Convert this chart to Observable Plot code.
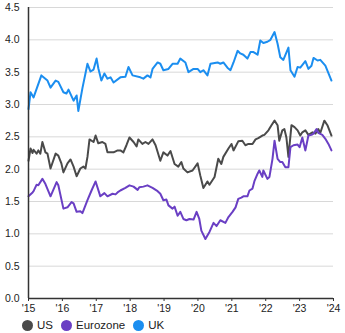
<!DOCTYPE html>
<html><head><meta charset="utf-8">
<script src="https://cdn.jsdelivr.net/npm/d3@7"></script>
<script src="https://cdn.jsdelivr.net/npm/@observablehq/plot@0.6"></script>
<style>
body{margin:0;background:#fff;font-family:"Liberation Sans",Arial,sans-serif;}
#legend{display:flex;align-items:center;height:16px;padding-left:22px;font-size:11.5px;color:#222;}
#legend span.item{display:flex;align-items:center;margin-right:8px;}
#legend span.dot{width:11px;height:11px;border-radius:50%;display:inline-block;margin-right:4px;}
</style></head>
<body>
<div id="chart"></div>
<div id="legend"></div>
<script>
const seriesNames = ["US", "Eurozone", "UK"];
const seriesColors = ["#4a4a4a", "#6a3fc4", "#1b8ef0"];
const xTicks = [2015,2016,2017,2018,2019,2020,2021,2022,2023,2024];
const xTickLabels = ["'15","'16","'17","'18","'19","'20","'21","'22","'23","'24"];
const yTicks = [0,0.5,1,1.5,2,2.5,3,3.5,4,4.5];

const ukDates = [2015.00,2015.06,2015.15,2015.38,2015.56,2015.65,2015.80,2015.88,2016.03,2016.12,2016.18,2016.33,2016.42,2016.47,2016.59,2016.74,2016.83,2016.92,2017.01,2017.06,2017.15,2017.24,2017.33,2017.42,2017.51,2017.71,2017.86,2017.95,2018.07,2018.30,2018.39,2018.51,2018.60,2018.66,2018.81,2018.89,2018.98,2019.13,2019.25,2019.40,2019.48,2019.63,2019.72,2019.87,2019.99,2020.07,2020.16,2020.28,2020.37,2020.58,2020.66,2020.75,2020.87,2020.96,2021.05,2021.17,2021.25,2021.34,2021.46,2021.55,2021.64,2021.76,2021.84,2021.93,2022.05,2022.14,2022.26,2022.35,2022.43,2022.52,2022.67,2022.73,2022.85,2022.94,2023.02,2023.17,2023.26,2023.35,2023.41,2023.53,2023.61,2023.76,2023.94];
const ukValues = [2.93,3.19,3.11,3.45,3.37,3.26,3.37,3.35,3.19,3.17,3.23,3.06,3.14,2.90,3.25,3.63,3.51,3.54,3.71,3.56,3.37,3.48,3.40,3.42,3.34,3.42,3.43,3.58,3.45,3.42,3.40,3.45,3.42,3.55,3.65,3.63,3.53,3.55,3.63,3.63,3.71,3.65,3.50,3.55,3.55,3.50,3.53,3.45,3.63,3.65,3.63,3.65,3.57,3.53,3.65,3.83,3.79,3.77,3.71,3.81,3.81,3.77,3.99,3.95,3.97,4.00,4.12,3.94,3.73,3.69,3.88,3.53,3.43,3.58,3.57,3.67,3.55,3.60,3.72,3.68,3.69,3.60,3.37];

const usDates = [2015.00,2015.06,2015.12,2015.15,2015.24,2015.29,2015.35,2015.41,2015.50,2015.56,2015.65,2015.80,2015.88,2015.97,2016.03,2016.15,2016.24,2016.33,2016.42,2016.53,2016.62,2016.68,2016.74,2016.80,2016.92,2016.98,2017.06,2017.18,2017.27,2017.33,2017.51,2017.63,2017.71,2017.80,2017.89,2017.98,2018.10,2018.19,2018.24,2018.36,2018.45,2018.54,2018.66,2018.75,2018.89,2018.98,2019.10,2019.19,2019.31,2019.42,2019.51,2019.57,2019.69,2019.84,2019.99,2020.07,2020.16,2020.28,2020.34,2020.49,2020.60,2020.69,2020.75,2020.90,2020.99,2021.05,2021.19,2021.31,2021.40,2021.49,2021.61,2021.70,2021.78,2021.90,2021.96,2022.08,2022.17,2022.26,2022.35,2022.40,2022.49,2022.55,2022.61,2022.67,2022.76,2022.85,2022.94,2023.02,2023.08,2023.17,2023.26,2023.38,2023.47,2023.55,2023.61,2023.73,2023.82,2023.94];
const usValues = [2.13,2.32,2.25,2.30,2.24,2.29,2.24,2.42,2.26,2.24,2.01,2.24,2.21,2.09,1.95,2.09,2.15,2.04,1.89,2.01,2.04,2.01,2.19,2.46,2.42,2.52,2.40,2.42,2.39,2.26,2.26,2.29,2.29,2.26,2.37,2.49,2.42,2.35,2.46,2.39,2.42,2.39,2.46,2.37,2.13,2.26,2.21,2.28,2.08,2.04,2.11,2.01,1.95,1.98,2.09,1.90,1.71,1.81,1.76,1.88,2.16,2.08,2.19,2.32,2.39,2.29,2.43,2.44,2.37,2.39,2.39,2.46,2.48,2.52,2.53,2.60,2.68,2.75,2.68,2.44,2.60,2.62,2.49,2.19,2.68,2.65,2.60,2.52,2.57,2.60,2.53,2.57,2.55,2.62,2.56,2.75,2.68,2.52];

const euDates = [2015.00,2015.12,2015.15,2015.24,2015.29,2015.41,2015.50,2015.65,2015.83,2015.88,2016.03,2016.15,2016.27,2016.33,2016.42,2016.53,2016.59,2016.62,2016.74,2016.86,2016.98,2017.12,2017.24,2017.33,2017.48,2017.57,2017.65,2017.71,2017.86,2017.98,2018.10,2018.22,2018.27,2018.39,2018.51,2018.66,2018.81,2018.89,2018.98,2019.07,2019.13,2019.25,2019.31,2019.40,2019.48,2019.57,2019.66,2019.75,2019.87,2019.96,2020.04,2020.10,2020.22,2020.34,2020.46,2020.55,2020.66,2020.81,2020.90,2021.02,2021.11,2021.19,2021.28,2021.34,2021.46,2021.52,2021.61,2021.67,2021.76,2021.81,2021.90,2021.93,2022.05,2022.11,2022.20,2022.26,2022.35,2022.43,2022.49,2022.58,2022.67,2022.73,2022.82,2022.94,2023.00,2023.08,2023.17,2023.26,2023.35,2023.41,2023.50,2023.55,2023.67,2023.76,2023.85,2023.94];
const euValues = [1.58,1.64,1.66,1.76,1.75,1.85,1.77,1.58,1.80,1.75,1.39,1.41,1.49,1.47,1.34,1.35,1.32,1.36,1.52,1.67,1.81,1.58,1.63,1.58,1.62,1.61,1.65,1.67,1.71,1.75,1.73,1.68,1.72,1.73,1.75,1.71,1.66,1.62,1.52,1.53,1.44,1.39,1.42,1.28,1.34,1.23,1.21,1.23,1.22,1.34,1.23,1.05,0.92,1.03,1.17,1.12,1.21,1.17,1.26,1.34,1.41,1.54,1.56,1.58,1.58,1.67,1.70,1.82,1.93,1.98,1.88,1.98,1.85,1.88,2.16,2.44,2.16,2.11,2.11,2.03,2.03,2.34,2.37,2.38,2.34,2.49,2.29,2.52,2.53,2.55,2.62,2.56,2.53,2.47,2.39,2.29];

const toRows = (dates, values, name) => dates.map((d, i) => ({date: d, value: values[i], series: name}));
const rows = [
  ...toRows(usDates, usValues, "US"),
  ...toRows(euDates, euValues, "Eurozone"),
  ...toRows(ukDates, ukValues, "UK")
];

const chart = Plot.plot({
  width: 345,
  height: 317,
  marginLeft: 28,
  marginRight: 12,
  marginTop: 7,
  marginBottom: 19,
  style: {fontFamily: '"Liberation Sans", Arial, sans-serif', fontSize: "10.5px", color: "#222", background: "#fff"},
  x: {domain: [2015, 2024], ticks: xTicks, tickFormat: d => xTickLabels[xTicks.indexOf(d)], tickSize: 3, tickPadding: 3, label: null},
  y: {domain: [0, 4.5], ticks: yTicks, tickFormat: d3.format(".1f"), tickSize: 0, tickPadding: 9, label: null},
  color: {domain: seriesNames, range: seriesColors},
  marks: [
    Plot.gridY(yTicks, {stroke: "#d8d8d8", strokeOpacity: 1, strokeWidth: 1}),
    Plot.axisX({ticks: xTicks, tickFormat: d => xTickLabels[xTicks.indexOf(d)], tickSize: 3, tickPadding: 3, stroke: "#333", label: null}),
    Plot.axisY({ticks: yTicks, tickFormat: d3.format(".1f"), tickSize: 0, tickPadding: 9, label: null}),
    Plot.line(rows, {x: "date", y: "value", z: "series", stroke: "series", strokeWidth: 2, curve: "linear"}),
    Plot.ruleX([2015], {stroke: "#333", strokeWidth: 1.5}),
    Plot.ruleY([0], {stroke: "#333", strokeWidth: 1.5})
  ]
});
document.getElementById("chart").appendChild(chart);

const legend = document.getElementById("legend");
seriesNames.forEach((n, i) => {
  const item = document.createElement("span");
  item.className = "item";
  const dot = document.createElement("span");
  dot.className = "dot";
  dot.style.background = seriesColors[i];
  item.appendChild(dot);
  item.appendChild(document.createTextNode(n));
  legend.appendChild(item);
});
</script>
</body></html>
